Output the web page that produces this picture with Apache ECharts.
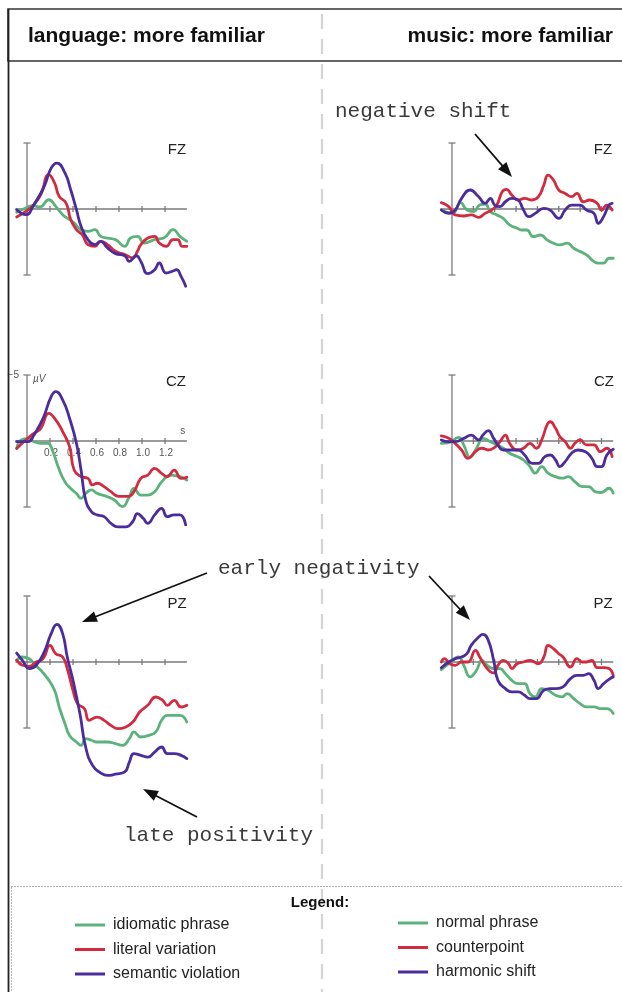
<!DOCTYPE html>
<html><head><meta charset="utf-8">
<script src="https://cdn.jsdelivr.net/npm/echarts@6/dist/echarts.min.js"></script>
<style>html,body{margin:0;padding:0;background:#fff}#c{width:622px;height:992px}</style>
</head><body><div id="c"></div>
<script>
// ---------------- DATA ----------------
const stations = ['FZ', 'CZ', 'PZ'];
const conditionsLanguage = ['idiomatic phrase', 'literal variation', 'semantic violation'];
const conditionsMusic = ['normal phrase', 'counterpoint', 'harmonic shift'];
const headerLanguage = 'language: more familiar';
const headerMusic = 'music: more familiar';
const ticksLanguage = [0.2, 0.4, 0.6, 0.8, 1.0, 1.2];
const ticksMusic = [0.2, 0.4, 0.6, 0.8, 1.0, 1.2, 1.4];
const tickLabels = ['0.2', '0.4', '0.6', '0.8', '1.0', '1.2'];
const amplitudeTicks = [-5, 5];
const amplitudeLabel = '\u22125';
const amplitudeUnit = '\u00b5V';
const timeUnit = 's';

// [time (s), amplitude (µV)], negative plotted upward
const lang_FZ_idiomatic = [[-0.09,0.25],[-0.01,-0.08],[0.05,-0.25],[0.11,-0.15],[0.19,-0.7],[0.25,-0.2],[0.31,0.43],[0.37,0.8],[0.41,1.06],[0.47,1.57],[0.53,1.69],[0.59,1.57],[0.64,2.07],[0.70,2.2],[0.77,2.32],[0.85,2.83],[0.90,2.2],[0.96,2.07],[1.02,2.58],[1.11,2.32],[1.19,2.2],[1.27,1.57],[1.33,2.07],[1.39,2.45]];
const lang_FZ_literal = [[-0.09,0.6],[-0.01,0.18],[0.06,-0.33],[0.12,-1.09],[0.19,-2.6],[0.24,-1.97],[0.28,-0.96],[0.34,-0.45],[0.38,0.8],[0.43,1.57],[0.48,1.94],[0.53,2.7],[0.59,2.83],[0.64,2.45],[0.70,2.7],[0.77,3.2],[0.85,3.45],[0.92,3.7],[0.96,3.2],[0.99,2.7],[1.05,2.2],[1.11,2.07],[1.15,2.58],[1.21,2.83],[1.27,2.32],[1.31,2.32],[1.35,2.83],[1.39,2.83]];
const lang_FZ_semantic = [[-0.09,0.05],[-0.01,0.43],[0.06,-0.33],[0.15,-1.72],[0.21,-3.1],[0.26,-3.48],[0.33,-2.73],[0.38,-1.46],[0.43,0.05],[0.47,1.31],[0.53,2.32],[0.59,2.7],[0.64,2.45],[0.70,2.95],[0.77,3.38],[0.85,3.54],[0.89,3.97],[0.95,3.54],[0.99,3.97],[1.05,4.9],[1.11,4.6],[1.15,4.09],[1.21,4.85],[1.27,4.7],[1.30,4.6],[1.34,5.1],[1.38,5.85]];

const lang_CZ_idiomatic = [[-0.09,0.56],[-0.05,-0.08],[0.01,-0.2],[0.06,0.05],[0.12,0.18],[0.18,0.18],[0.22,0.68],[0.27,1.94],[0.33,3.1],[0.38,3.6],[0.43,3.97],[0.47,4.35],[0.51,3.97],[0.56,3.71],[0.61,3.97],[0.70,4.22],[0.76,4.47],[0.83,4.97],[0.89,4.22],[0.93,3.6],[0.99,4.1],[1.05,4.1],[1.11,3.84],[1.17,3.1],[1.25,2.58],[1.33,2.7],[1.39,2.96]];
const lang_CZ_literal = [[-0.09,0.56],[-0.01,-0.08],[0.06,-0.58],[0.12,-0.96],[0.19,-2.1],[0.25,-1.6],[0.31,-0.71],[0.37,0.43],[0.41,2.2],[0.47,2.7],[0.53,2.83],[0.57,3.33],[0.61,3.2],[0.67,3.46],[0.73,3.84],[0.80,4.2],[0.88,4.2],[0.93,3.84],[0.99,2.83],[1.05,2.58],[1.11,2.07],[1.17,2.45],[1.22,2.7],[1.28,2.2],[1.34,2.83],[1.39,2.75]];
const lang_CZ_semantic = [[-0.09,0.05],[0.01,0.05],[0.06,-0.45],[0.14,-1.72],[0.21,-3.36],[0.25,-3.74],[0.31,-3.11],[0.37,-1.72],[0.43,0.18],[0.47,2.2],[0.51,4.47],[0.56,5.35],[0.61,5.6],[0.67,5.73],[0.73,6.24],[0.79,6.5],[0.86,6.5],[0.92,6.1],[0.96,5.5],[1.01,5.86],[1.05,6.24],[1.11,5.6],[1.17,5.1],[1.22,5.73],[1.28,5.6],[1.33,5.6],[1.38,6.36]];

const lang_PZ_idiomatic = [[-0.09,-0.13],[-0.04,-0.38],[0.02,-0.25],[0.06,0.13],[0.12,0.63],[0.18,1.26],[0.24,2.15],[0.28,3.41],[0.33,4.67],[0.37,5.56],[0.43,6.06],[0.47,6.31],[0.51,5.81],[0.56,5.93],[0.61,6.06],[0.70,6.06],[0.77,6.19],[0.83,6.31],[0.89,5.81],[0.93,5.3],[0.99,5.68],[1.06,5.56],[1.12,5.3],[1.17,4.42],[1.22,4.04],[1.33,4.04],[1.39,4.55]];
const lang_PZ_literal = [[-0.09,-0.13],[-0.04,0.25],[0.02,0.33],[0.08,0],[0.14,-0.25],[0.20,-1.26],[0.25,-0.63],[0.31,-0.38],[0.35,0.5],[0.40,2.15],[0.44,3.16],[0.50,3.54],[0.54,4.42],[0.61,4.17],[0.67,4.42],[0.73,4.8],[0.79,5.05],[0.86,4.92],[0.92,4.55],[0.98,3.79],[1.05,3.28],[1.12,2.65],[1.18,2.9],[1.22,3.28],[1.28,2.9],[1.34,3.41],[1.39,3.28]];
const lang_PZ_semantic = [[-0.09,-0.68],[-0.04,-0.13],[0.02,0.5],[0.08,0.25],[0.15,-0.76],[0.21,-2.15],[0.26,-2.85],[0.31,-2.15],[0.35,-0.38],[0.40,1.39],[0.46,3.9],[0.51,6.44],[0.57,7.83],[0.64,8.4],[0.70,8.59],[0.77,8.5],[0.85,8.33],[0.89,7.58],[0.93,6.94],[0.99,7.07],[1.05,7.2],[1.11,6.82],[1.17,6.44],[1.22,6.94],[1.28,6.94],[1.34,7.07],[1.39,7.32]];

const music_FZ_normal = [[-0.10,0.03],[-0.03,0.28],[0.01,0.28],[0.08,-0.48],[0.14,0.08],[0.20,0.2],[0.26,-0.3],[0.31,-0.38],[0.36,0.2],[0.42,0.45],[0.48,0.71],[0.54,1.21],[0.61,1.46],[0.65,1.59],[0.70,1.59],[0.76,2.09],[0.83,1.97],[0.89,2.34],[0.95,2.59],[1.01,2.72],[1.08,2.59],[1.14,2.97],[1.20,3.22],[1.26,3.48],[1.33,3.98],[1.37,4.1],[1.42,4.1],[1.47,3.73],[1.51,3.73]];
const music_FZ_counter = [[-0.10,-0.48],[-0.03,-0.18],[0.03,0.45],[0.11,0.53],[0.18,0.45],[0.25,0.63],[0.31,0.33],[0.37,0.08],[0.42,-0.3],[0.47,-1.31],[0.51,-1.49],[0.56,-1.06],[0.62,-0.68],[0.68,-0.81],[0.75,-0.68],[0.81,-0.93],[0.86,-1.81],[0.90,-2.57],[0.95,-2.2],[1.00,-1.44],[1.06,-1.18],[1.12,-0.93],[1.17,-1.18],[1.23,-0.55],[1.29,-0.68],[1.36,-0.43],[1.40,0.08],[1.45,-0.3],[1.50,0.08]];
const music_FZ_harmonic = [[-0.10,0.08],[-0.03,0.33],[0.03,0.08],[0.09,-0.81],[0.17,-1.44],[0.25,-0.93],[0.31,-0.43],[0.36,-0.81],[0.40,-0.3],[0.45,-0.18],[0.50,-0.55],[0.56,-0.81],[0.62,-0.68],[0.67,0.08],[0.72,0.58],[0.78,0.33],[0.86,-0.05],[0.92,0.08],[1.00,0.71],[1.06,0.08],[1.12,-0.3],[1.20,-0.3],[1.26,0.08],[1.33,0.33],[1.37,1.08],[1.42,0.58],[1.47,-0.3],[1.50,-0.43]];

const music_CZ_normal = [[-0.10,0.18],[-0.03,0.13],[0.06,-0.28],[0.11,0.3],[0.17,1.23],[0.23,0.55],[0.29,-0.2],[0.36,0.05],[0.42,0.3],[0.48,0.55],[0.54,0.93],[0.61,1.18],[0.67,1.44],[0.73,1.94],[0.78,2.44],[0.84,1.94],[0.90,2.44],[0.97,2.7],[1.03,2.82],[1.09,2.7],[1.15,3.07],[1.22,3.45],[1.28,3.45],[1.34,3.83],[1.40,3.9],[1.47,3.58],[1.51,3.95]];
const music_CZ_counter = [[-0.10,-0.38],[-0.03,-0.2],[0.03,0.18],[0.09,0.68],[0.15,1.31],[0.22,0.81],[0.28,0.55],[0.34,0.68],[0.40,0.48],[0.45,0.05],[0.50,-0.45],[0.54,0.18],[0.61,0.68],[0.67,0.55],[0.73,0.18],[0.79,0.55],[0.84,-0.08],[0.89,-1.21],[0.92,-1.46],[0.97,-0.96],[1.01,-0.33],[1.06,0.05],[1.11,0.55],[1.15,0.18],[1.20,-0.08],[1.26,0.3],[1.33,0.3],[1.39,0.81],[1.45,0.55],[1.50,1.18]];
const music_CZ_harmonic = [[-0.10,-0.08],[-0.03,0.05],[0.03,0.05],[0.11,-0.2],[0.18,-0.45],[0.25,-0.08],[0.29,-0.45],[0.34,-0.78],[0.39,-0.2],[0.43,0.3],[0.48,0.68],[0.56,0.68],[0.62,0.68],[0.68,1.06],[0.75,1.69],[0.81,1.69],[0.87,1.18],[0.92,1.06],[0.97,1.44],[1.01,1.94],[1.06,1.56],[1.12,0.93],[1.18,0.68],[1.25,0.81],[1.31,1.31],[1.36,1.94],[1.40,1.94],[1.45,1.06],[1.51,0.63]];

const music_PZ_normal = [[-0.10,0.58],[-0.03,0.13],[0.06,-0.38],[0.11,0.25],[0.17,1.13],[0.23,0.63],[0.28,-0.13],[0.33,0.25],[0.39,0.5],[0.45,0.5],[0.50,0.88],[0.56,1.39],[0.62,1.64],[0.68,1.64],[0.73,2.39],[0.78,2.64],[0.84,2.02],[0.90,2.14],[0.97,2.52],[1.03,2.64],[1.08,2.39],[1.14,2.77],[1.20,3.15],[1.26,3.4],[1.33,3.4],[1.39,3.53],[1.45,3.53],[1.51,3.9]];
const music_PZ_counter = [[-0.10,0],[-0.07,-0.25],[-0.02,0.13],[0.03,0.25],[0.09,0],[0.15,0],[0.22,-0.88],[0.26,-0.38],[0.33,0.5],[0.39,0.83],[0.43,0.25],[0.48,-0.13],[0.53,0.13],[0.56,0.5],[0.61,0.13],[0.67,0],[0.73,-0.13],[0.81,0.13],[0.86,-0.38],[0.90,-1.26],[0.95,-1.01],[1.00,-0.63],[1.04,-0.38],[1.11,0.38],[1.17,-0.25],[1.22,0],[1.26,0],[1.31,-0.13],[1.36,0.43],[1.42,0.43],[1.47,0.5],[1.51,1.01]];
const music_PZ_harmonic = [[-0.10,0.43],[-0.03,0],[0.03,-0.25],[0.09,-0.38],[0.14,-0.63],[0.18,-1.26],[0.25,-1.89],[0.29,-2.09],[0.34,-1.64],[0.39,-0.13],[0.43,1.39],[0.50,2.02],[0.56,2.27],[0.62,2.27],[0.68,2.52],[0.73,2.77],[0.79,2.77],[0.86,2.14],[0.92,2.02],[0.98,2.02],[1.04,1.89],[1.11,1.26],[1.17,1.01],[1.23,1.01],[1.28,0.88],[1.33,1.39],[1.37,2.02],[1.42,1.64],[1.48,1.26],[1.51,1.13]];

const annotations = ['negative shift', 'early negativity', 'late positivity'];

// ---------------- LAYOUT / STYLE ----------------
const COLORS = ['#5bb27a', '#d22a3e', '#4b2c9c'];
const AXIS_COLOR = '#7a7a7a';
const SANS = '"Liberation Sans", Arial, Helvetica, sans-serif';
const MONO = '"Liberation Mono", "Courier New", monospace';
const PX_PER_UV = 13.2;
const Y_MIN = -6, Y_MAX = 9;
const rowZero = [209, 441, 662];
const cols = {
  lang:  { left: 15.5, width: 172.5, min: -0.1, max: 1.4, axisEnd: 1.39, ticks: ticksLanguage, names: conditionsLanguage },
  music: { left: 441.3, width: 173, min: -0.1, max: 1.52, axisEnd: 1.51, ticks: ticksMusic, names: conditionsMusic }
};
const plots = [
  { col: 'lang', row: 0, data: [lang_FZ_idiomatic, lang_FZ_literal, lang_FZ_semantic] },
  { col: 'lang', row: 1, data: [lang_CZ_idiomatic, lang_CZ_literal, lang_CZ_semantic], labelled: true },
  { col: 'lang', row: 2, data: [lang_PZ_idiomatic, lang_PZ_literal, lang_PZ_semantic] },
  { col: 'music', row: 0, data: [music_FZ_normal, music_FZ_counter, music_FZ_harmonic] },
  { col: 'music', row: 1, data: [music_CZ_normal, music_CZ_counter, music_CZ_harmonic] },
  { col: 'music', row: 2, data: [music_PZ_normal, music_PZ_counter, music_PZ_harmonic] }
];

const grid = [], xAxis = [], yAxis = [], series = [];

function axesRenderer(c, labelled) {
  return function (params, api) {
    const ch = [];
    const st = { stroke: AXIS_COLOR, lineWidth: 1.3 };
    const a = api.coord([c.min, 0]), b = api.coord([c.axisEnd, 0]);
    ch.push({ type: 'line', shape: { x1: a[0], y1: a[1], x2: b[0], y2: b[1] }, style: st });
    const top = api.coord([0, amplitudeTicks[0]]), bot = api.coord([0, amplitudeTicks[1]]);
    ch.push({ type: 'line', shape: { x1: top[0], y1: top[1], x2: bot[0], y2: bot[1] }, style: st });
    [top, bot].forEach(p => ch.push({ type: 'line', shape: { x1: p[0] - 3.5, y1: p[1], x2: p[0] + 3.5, y2: p[1] }, style: st }));
    c.ticks.forEach((t, i) => {
      const p = api.coord([t, 0]);
      ch.push({ type: 'line', shape: { x1: p[0], y1: p[1] - 3, x2: p[0], y2: p[1] + 3 }, style: st });
      if (labelled && tickLabels[i]) {
        ch.push({ type: 'text', style: { text: tickLabels[i], x: p[0] + 1, y: p[1] + 12, align: 'center', verticalAlign: 'middle', fontSize: 10, fontFamily: SANS, fill: '#555' } });
      }
    });
    if (labelled) {
      ch.push({ type: 'text', style: { text: amplitudeLabel, x: top[0] - 8, y: top[1] + 0, align: 'right', verticalAlign: 'middle', fontSize: 10, fontFamily: SANS, fill: '#555' } });
      ch.push({ type: 'text', style: { text: amplitudeUnit, x: top[0] + 6, y: top[1] + 4, align: 'left', verticalAlign: 'middle', fontSize: 10, fontStyle: 'italic', fontFamily: SANS, fill: '#555' } });
      ch.push({ type: 'text', style: { text: timeUnit, x: b[0] - 4, y: b[1] - 10, align: 'center', verticalAlign: 'middle', fontSize: 10, fontFamily: SANS, fill: '#555' } });
    }
    return { type: 'group', children: ch };
  };
}

plots.forEach((p, i) => {
  const c = cols[p.col];
  grid.push({ left: c.left, width: c.width, top: rowZero[p.row] + Y_MIN * PX_PER_UV, height: (Y_MAX - Y_MIN) * PX_PER_UV });
  xAxis.push({ gridIndex: i, type: 'value', min: c.min, max: c.max, show: false });
  yAxis.push({ gridIndex: i, type: 'value', min: Y_MIN, max: Y_MAX, inverse: true, show: false });
  series.push({ type: 'custom', xAxisIndex: i, yAxisIndex: i, data: [[0, 0]], renderItem: axesRenderer(c, p.labelled), silent: true, z: 1, clip: false });
  p.data.forEach((d, k) => {
    series.push({
      type: 'line', name: c.names[k], xAxisIndex: i, yAxisIndex: i, data: d,
      smooth: 0.5, showSymbol: false, symbol: 'none', z: 2 + k,
      lineStyle: { color: COLORS[k], width: 2.8, cap: 'round', join: 'round' },
      itemStyle: { color: COLORS[k] }, silent: true
    });
  });
});

// ---------------- DECORATION ----------------
function arrow(x1, y1, x2, y2) {
  const ang = Math.atan2(y2 - y1, x2 - x1), L = 15, W = 5.5;
  const cs = Math.cos(ang), sn = Math.sin(ang);
  const bx = x2 - L * cs, by = y2 - L * sn;
  return [
    { type: 'line', shape: { x1: x1, y1: y1, x2: bx + 2 * cs, y2: by + 2 * sn }, style: { stroke: '#111', lineWidth: 1.8 }, z: 20 },
    { type: 'polygon', shape: { points: [[x2, y2], [bx + W * sn, by - W * cs], [bx - W * sn, by + W * cs]] }, style: { fill: '#111' }, z: 20 }
  ];
}
const stationText = (t, x, y) => ({ type: 'text', x: x, y: y, style: { text: t, fontSize: 15, fontFamily: SANS, fill: '#222', align: 'center', verticalAlign: 'middle' }, z: 10 });
const monoText = (t, x, y) => ({ type: 'text', x: x, y: y, style: { text: t, fontSize: 21, fontFamily: MONO, fill: '#3a3a3a', align: 'left', verticalAlign: 'middle' }, z: 15 });

const graphic = [
  { type: 'line', shape: { x1: 322, y1: 14, x2: 322, y2: 992 }, style: { stroke: '#d4d4d4', lineWidth: 2.2, lineDash: [15, 10] }, z: 0 },
  { type: 'rect', shape: { x: 8, y: 9, width: 640, height: 52 }, style: { fill: 'none', stroke: '#333', lineWidth: 1.6 }, z: 5 },
  { type: 'line', shape: { x1: 8.5, y1: 9, x2: 8.5, y2: 992 }, style: { stroke: '#222', lineWidth: 1.8 }, z: 5 },
  { type: 'text', x: 28, y: 36, style: { text: headerLanguage, fontSize: 21, fontWeight: 'bold', fontFamily: SANS, fill: '#111', align: 'left', verticalAlign: 'middle' }, z: 6 },
  { type: 'text', x: 613, y: 36, style: { text: headerMusic, fontSize: 21, fontWeight: 'bold', fontFamily: SANS, fill: '#111', align: 'right', verticalAlign: 'middle' }, z: 6 },
  { type: 'rect', shape: { x: 11.5, y: 886.5, width: 640, height: 120 }, style: { fill: 'none', stroke: '#666', lineWidth: 1, lineDash: [1, 2] }, z: 5 },
  { type: 'text', x: 320, y: 903, style: { text: 'Legend:', fontSize: 15, fontWeight: 'bold', fontFamily: SANS, fill: '#111', align: 'center', verticalAlign: 'middle' }, z: 6 },
  stationText(stations[0], 177, 150), stationText(stations[1], 176, 382), stationText(stations[2], 177, 604),
  stationText(stations[0], 603, 150), stationText(stations[1], 604, 382), stationText(stations[2], 603, 604),
  monoText(annotations[0], 335, 111), monoText(annotations[1], 218, 568), monoText(annotations[2], 124, 835),
  ...arrow(475, 134, 512, 177),
  ...arrow(207, 573, 82, 622),
  ...arrow(429, 576, 470, 620),
  ...arrow(197, 817, 143, 789)
];

const legendBase = {
  orient: 'vertical', icon: 'rect', itemWidth: 30, itemHeight: 3, itemGap: 8.5, selectedMode: false,
  textStyle: { fontSize: 16, fontFamily: SANS, color: '#222', lineHeight: 16, padding: [0, 0, 0, 3] }
};

const chart = echarts.init(document.getElementById('c'), null, { renderer: 'canvas' });
chart.setOption({
  animation: false,
  backgroundColor: '#fff',
  grid: grid, xAxis: xAxis, yAxis: yAxis, series: series,
  legend: [
    Object.assign({}, legendBase, { data: conditionsLanguage, left: 70, top: 912 }),
    Object.assign({}, legendBase, { data: conditionsMusic, left: 393, top: 910 })
  ],
  graphic: graphic
});
</script></body></html>
